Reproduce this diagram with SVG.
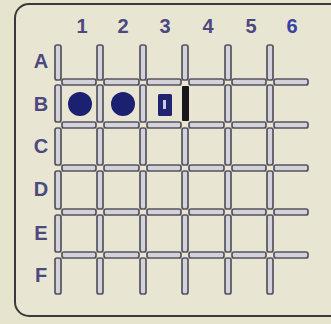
<svg xmlns="http://www.w3.org/2000/svg" width="331" height="324" viewBox="0 0 331 324">
<style>
.lbl{font-family:"Liberation Sans",Arial,sans-serif;font-weight:bold;font-size:20px;fill:#4c4880;text-anchor:middle}
.seg{fill:#d4d2da;stroke:#55535f;stroke-width:1.7}
</style>
<rect x="0" y="0" width="331" height="324" fill="#e6e4cc"/>
<rect x="15" y="4" width="340" height="312" rx="14" fill="#e8e6d2" stroke="#3a3a3e" stroke-width="2"/>
<g id="col-labels">
<text class="lbl" x="82" y="33">1</text>
<text class="lbl" x="123" y="33">2</text>
<text class="lbl" x="165" y="33">3</text>
<text class="lbl" x="208" y="33">4</text>
<text class="lbl" x="251" y="33">5</text>
<text class="lbl" x="292" y="33" style="fill:#3a40a4">6</text>
</g>
<g id="row-labels">
<text class="lbl" x="41" y="68">A</text>
<text class="lbl" x="41" y="111">B</text>
<text class="lbl" x="41" y="153">C</text>
<text class="lbl" x="41" y="196">D</text>
<text class="lbl" x="41" y="240">E</text>
<text class="lbl" x="41" y="282">F</text>
</g>
<g id="grid">
<g id="verticals">
<rect class="seg" x="55" y="45" width="6" height="35" rx="2"/><rect class="seg" x="55" y="85" width="6" height="37" rx="2"/><rect class="seg" x="55" y="128" width="6" height="37" rx="2"/><rect class="seg" x="55" y="171" width="6" height="38" rx="2"/><rect class="seg" x="55" y="215" width="6" height="37" rx="2"/><rect class="seg" x="55" y="258" width="6" height="36" rx="2"/>
<rect class="seg" x="97" y="45" width="6" height="35" rx="2"/><rect class="seg" x="97" y="85" width="6" height="37" rx="2"/><rect class="seg" x="97" y="128" width="6" height="37" rx="2"/><rect class="seg" x="97" y="171" width="6" height="38" rx="2"/><rect class="seg" x="97" y="215" width="6" height="37" rx="2"/><rect class="seg" x="97" y="258" width="6" height="36" rx="2"/>
<rect class="seg" x="140" y="45" width="6" height="35" rx="2"/><rect class="seg" x="140" y="85" width="6" height="37" rx="2"/><rect class="seg" x="140" y="128" width="6" height="37" rx="2"/><rect class="seg" x="140" y="171" width="6" height="38" rx="2"/><rect class="seg" x="140" y="215" width="6" height="37" rx="2"/><rect class="seg" x="140" y="258" width="6" height="36" rx="2"/>
<rect class="seg" x="182" y="45" width="6" height="35" rx="2"/><rect x="182" y="86" width="7" height="35" rx="1" fill="#16161c"/><rect class="seg" x="182" y="128" width="6" height="37" rx="2"/><rect class="seg" x="182" y="171" width="6" height="38" rx="2"/><rect class="seg" x="182" y="215" width="6" height="37" rx="2"/><rect class="seg" x="182" y="258" width="6" height="36" rx="2"/>
<rect class="seg" x="225" y="45" width="6" height="35" rx="2"/><rect class="seg" x="225" y="85" width="6" height="37" rx="2"/><rect class="seg" x="225" y="128" width="6" height="37" rx="2"/><rect class="seg" x="225" y="171" width="6" height="38" rx="2"/><rect class="seg" x="225" y="215" width="6" height="37" rx="2"/><rect class="seg" x="225" y="258" width="6" height="36" rx="2"/>
<rect class="seg" x="267" y="45" width="6" height="35" rx="2"/><rect class="seg" x="267" y="85" width="6" height="37" rx="2"/><rect class="seg" x="267" y="128" width="6" height="37" rx="2"/><rect class="seg" x="267" y="171" width="6" height="38" rx="2"/><rect class="seg" x="267" y="215" width="6" height="37" rx="2"/><rect class="seg" x="267" y="258" width="6" height="36" rx="2"/>
</g>
<g id="horizontals">
<rect class="seg" x="62" y="79" width="34" height="6" rx="2"/><rect class="seg" x="104" y="79" width="35" height="6" rx="2"/><rect class="seg" x="147" y="79" width="34" height="6" rx="2"/><rect class="seg" x="189" y="79" width="35" height="6" rx="2"/><rect class="seg" x="232" y="79" width="34" height="6" rx="2"/><rect class="seg" x="274" y="79" width="34" height="6" rx="2"/>
<rect class="seg" x="62" y="122" width="34" height="6" rx="2"/><rect class="seg" x="104" y="122" width="35" height="6" rx="2"/><rect class="seg" x="147" y="122" width="34" height="6" rx="2"/><rect class="seg" x="189" y="122" width="35" height="6" rx="2"/><rect class="seg" x="232" y="122" width="34" height="6" rx="2"/><rect class="seg" x="274" y="122" width="34" height="6" rx="2"/>
<rect class="seg" x="62" y="165" width="34" height="6" rx="2"/><rect class="seg" x="104" y="165" width="35" height="6" rx="2"/><rect class="seg" x="147" y="165" width="34" height="6" rx="2"/><rect class="seg" x="189" y="165" width="35" height="6" rx="2"/><rect class="seg" x="232" y="165" width="34" height="6" rx="2"/><rect class="seg" x="274" y="165" width="34" height="6" rx="2"/>
<rect class="seg" x="62" y="209" width="34" height="6" rx="2"/><rect class="seg" x="104" y="209" width="35" height="6" rx="2"/><rect class="seg" x="147" y="209" width="34" height="6" rx="2"/><rect class="seg" x="189" y="209" width="35" height="6" rx="2"/><rect class="seg" x="232" y="209" width="34" height="6" rx="2"/><rect class="seg" x="274" y="209" width="34" height="6" rx="2"/>
<rect class="seg" x="62" y="252" width="34" height="6" rx="2"/><rect class="seg" x="104" y="252" width="35" height="6" rx="2"/><rect class="seg" x="147" y="252" width="34" height="6" rx="2"/><rect class="seg" x="189" y="252" width="35" height="6" rx="2"/><rect class="seg" x="232" y="252" width="34" height="6" rx="2"/><rect class="seg" x="274" y="252" width="34" height="6" rx="2"/>
</g>
</g>
<g id="piece-b1"><circle cx="80" cy="104" r="12" fill="#1c2070"/></g>
<g id="piece-b2"><circle cx="123" cy="104" r="12" fill="#1c2070"/></g>
<g id="piece-b3"><rect x="158" y="94" width="14" height="22" rx="1.5" fill="#1f2370"/><rect x="163" y="100" width="3" height="9" fill="#c8cbe8"/></g>
</svg>
